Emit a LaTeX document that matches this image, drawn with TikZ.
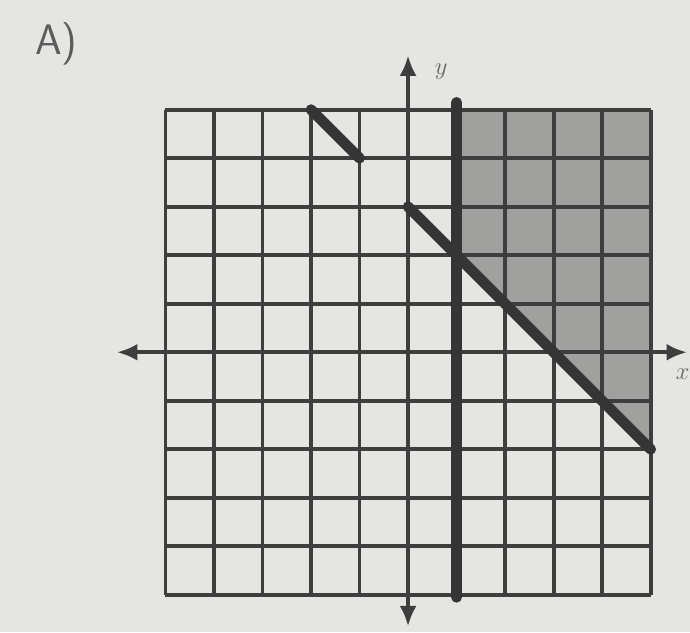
\documentclass[tikz,border=0pt]{standalone}
\usepackage{tikz}
\usetikzlibrary{arrows.meta}
\definecolor{paper}{RGB}{229,229,226}
\definecolor{ink}{RGB}{62,62,62}
\definecolor{shade}{RGB}{160,160,158}
\tikzset{
  gridline/.style={draw=ink, line width=2.2pt},
  axis/.style={draw=ink, line width=2.6pt,
    {Latex[length=12pt,width=10pt]}-{Latex[length=12pt,width=10pt]}},
  boundary/.style={draw=ink!85!black, line width=6.3pt, line cap=round},
  region/.style={fill=shade},
  axislabel/.style={font=\Large, text=ink!80}
}
\begin{document}
\begin{tikzpicture}

% Paper
\fill[paper] (-8.41,-5.77) rectangle (5.81,7.26);
\useasboundingbox (-8.41,-5.77) rectangle (5.81,7.26);

% Label
\node[font=\sffamily\fontsize{25}{28}\selectfont, text=ink!85] (lbl) at (-7.25,6.35) {A)};

% Solution region
\fill[region] (1,5) -- (5,5) -- (5,-2) -- (1,2) -- cycle;

% Grid
\foreach \k in {-5,...,5} {
  \draw[gridline] (\k,-5) -- (\k,5);
  \draw[gridline] (-5,\k) -- (5,\k);
}

% Axes
\draw[axis] (-6,0) -- (5.75,0);
\draw[axis] (0,-5.65) -- (0,6.12);
\node[axislabel] (ylab) at (0.68,5.78) {$y$};
\node[axislabel] (xlab) at (5.66,-0.45) {$x$};

% Boundary lines
\draw[boundary] (1,5.15) -- (1,-5.05);
\draw[boundary] (-2,5) -- (-1,4);
\draw[boundary] (0,3) -- (5,-2);

\end{tikzpicture}
\end{document}
